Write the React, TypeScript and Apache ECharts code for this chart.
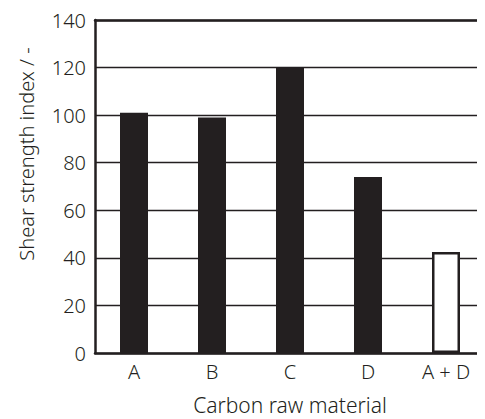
import React, { useEffect, useRef } from "react";
import * as echarts from "echarts";

const categories = ["A", "B", "C", "D", "A + D"];
const values = [101, 99, 120, 74, 42.5];
const filled = [true, true, true, true, false];
const yTicks = { min: 0, max: 140, interval: 20 };

const INK = "#231f20";
const FONT = "'Noto Sans', 'Open Sans', sans-serif";

export default function App() {
  const ref = useRef<HTMLDivElement>(null);
  useEffect(() => {
    if (!ref.current) return;
    const chart = echarts.init(ref.current, undefined, { renderer: "svg" });
    chart.setOption({
      animation: false,
      grid: { left: 95, right: 0, top: 20, bottom: 66, containLabel: false, outerBoundsMode: "none" },
      xAxis: [
        {
          type: "category",
          data: categories,
          axisLine: { lineStyle: { color: INK, width: 2.5 } },
          axisTick: { show: false },
          axisLabel: { color: INK, fontSize: 20, fontFamily: FONT, fontWeight: 300, margin: 8 },
          name: "Carbon raw material",
          nameLocation: "middle",
          nameGap: 41,
          nameTextStyle: { color: INK, fontSize: 21, fontFamily: FONT, fontWeight: 300 },
        },
        {
          type: "category",
          position: "top",
          data: categories,
          axisLine: { show: true, lineStyle: { color: INK, width: 2.5 } },
          axisTick: { show: false },
          axisLabel: { show: false },
        },
      ],
      yAxis: {
        type: "value",
        min: yTicks.min,
        max: yTicks.max,
        interval: yTicks.interval,
        axisLine: { show: true, lineStyle: { color: INK, width: 2.5 } },
        axisTick: { show: false },
        axisLabel: { color: INK, fontSize: 20, fontFamily: FONT, fontWeight: 300, margin: 9 },
        splitLine: { show: true, lineStyle: { color: INK, width: 1.3 } },
      },
      graphic: [
        {
          type: "text",
          x: 26,
          y: 154,
          rotation: Math.PI / 2,
          style: {
            text: "Shear strength index / -",
            fill: INK,
            fontSize: 20,
            fontFamily: FONT,
            fontWeight: 300,
            align: "center",
            verticalAlign: "middle",
          },
        },
      ],
      series: [
        {
          type: "bar",
          barWidth: 28,
          data: values.map((v, i) => ({
            value: v,
            itemStyle: filled[i]
              ? { color: INK }
              : { color: "#ffffff", borderColor: INK, borderWidth: 2.5 },
          })),
        },
      ],
    });
    return () => chart.dispose();
  }, []);
  return <div ref={ref} style={{ width: 485, height: 419, marginLeft: -8, marginTop: -8 }} />;
}
